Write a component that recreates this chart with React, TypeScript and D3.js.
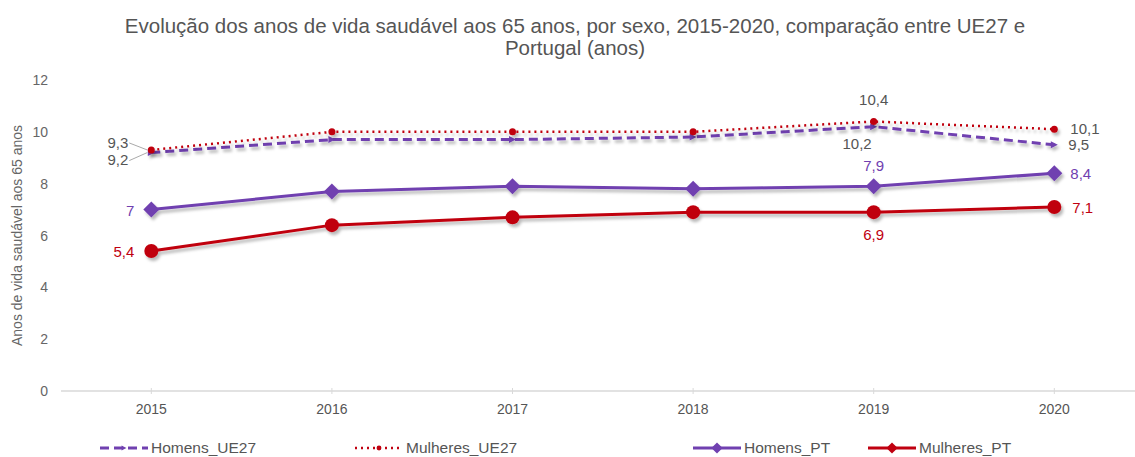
import React from 'react';
import * as d3 from 'd3';

const years = ['2015', '2016', '2017', '2018', '2019', '2020'];
const homensUE27 = [9.2, 9.7, 9.7, 9.8, 10.2, 9.5];
const mulheresUE27 = [9.3, 10.0, 10.0, 10.0, 10.4, 10.1];
const homensPT = [7.0, 7.7, 7.9, 7.8, 7.9, 8.4];
const mulheresPT = [5.4, 6.4, 6.7, 6.9, 6.9, 7.1];
const yTicks = [0, 2, 4, 6, 8, 10, 12];

const PURPLE = '#7040b0';
const RED = '#c00010';
const GREY = '#555';
const FONT = '"Liberation Sans", Arial, Helvetica, sans-serif';

type Series = {
  name: string;
  values: number[];
  color: string;
  dash: string;
  width: number;
  marker: 'arrow' | 'dot' | 'diamond' | 'circle';
  labelColor: string;
  // label placement per labelled year index: [dx, dy, anchor]
  labels: Record<number, [number, number, string]>;
};

const series: Series[] = [
  {
    name: 'Homens_UE27', values: homensUE27, color: PURPLE, dash: '9,5', width: 3,
    marker: 'arrow', labelColor: GREY,
    labels: { 0: [-23, 12, 'end'], 4: [-2, 22, 'end'], 5: [14, 5, 'start'] },
  },
  {
    name: 'Mulheres_UE27', values: mulheresUE27, color: RED, dash: '2,4', width: 2.5,
    marker: 'dot', labelColor: GREY,
    labels: { 0: [-23, -2, 'end'], 4: [0, -16, 'middle'], 5: [16, 5, 'start'] },
  },
  {
    name: 'Homens_PT', values: homensPT, color: PURPLE, dash: '', width: 3,
    marker: 'diamond', labelColor: PURPLE,
    labels: { 0: [-17, 6, 'end'], 4: [0, -15, 'middle'], 5: [16, 6, 'start'] },
  },
  {
    name: 'Mulheres_PT', values: mulheresPT, color: RED, dash: '', width: 3,
    marker: 'circle', labelColor: RED,
    labels: { 0: [-17, 6, 'end'], 4: [0, 28, 'middle'], 5: [18, 6, 'start'] },
  },
];

const fmt = (v: number) => String(v).replace('.', ',');

function Marker({ kind, x, y, color, s = 1 }: { kind: Series['marker']; x: number; y: number; color: string; s?: number }) {
  if (kind === 'circle') return <circle cx={x} cy={y} r={7 * s} fill={color} />;
  if (kind === 'dot') return <circle cx={x} cy={y} r={3.5 * s} fill={color} />;
  if (kind === 'diamond') {
    const d = 8 * s;
    return <path d={`M${x},${y - d}L${x + d},${y}L${x},${y + d}L${x - d},${y}Z`} fill={color} />;
  }
  const a = 3.5 * s;
  return <path d={`M${x - a},${y - a}L${x + a},${y}L${x - a},${y + a}Z`} fill={color} />;
}

export default function App() {
  const width = 1135;
  const height = 457;
  const x = d3.scaleBand<string>().domain(years).range([61, 1144.6]);
  const y = d3.scaleLinear().domain([0, 12]).range([391, 80]);
  const cx = (yr: string) => (x(yr) ?? 0) + x.bandwidth() / 2;
  const line = d3.line<number>().x((_, i) => cx(years[i])).y(d => y(d));

  const legendX = [100, 355, 693, 868];

  return (
    <svg width={width} height={height} style={{ position: 'absolute', left: 0, top: 0, fontFamily: FONT }}>
      <defs>
        <filter id="sh" x="-10%" y="-50%" width="120%" height="200%">
          <feDropShadow dx="2" dy="3" stdDeviation="1.6" floodColor="#000" floodOpacity="0.28" />
        </filter>
      </defs>
      <rect width={width} height={height} fill="#fff" />
      <text x={575} y={33} textAnchor="middle" fontSize={20.5} fill={GREY}>
        Evolução dos anos de vida saudável aos 65 anos, por sexo, 2015-2020, comparação entre UE27 e
      </text>
      <text x={575} y={55} textAnchor="middle" fontSize={20.5} fill={GREY}>Portugal (anos)</text>

      {yTicks.map(t => (
        <text key={t} x={48} y={y(t) + 5} textAnchor="end" fontSize={14} fill="#666">{t}</text>
      ))}
      <text transform={`translate(22,${y(6)}) rotate(-90)`} textAnchor="middle" fontSize={14} fill="#666">
        Anos de vida saudável aos 65 anos
      </text>

      <line x1={61} x2={1135} y1={y(0)} y2={y(0)} stroke="#d9d9d9" strokeWidth={1.5} />
      {years.map(yr => (
        <g key={yr}>
          <line x1={cx(yr)} x2={cx(yr)} y1={y(0) - 3} y2={y(0) + 3} stroke="#d9d9d9" />
          <text x={cx(yr)} y={y(0) + 23} textAnchor="middle" fontSize={14} fill="#555">{yr}</text>
        </g>
      ))}

      {series.map(s => (
        <g key={s.name} filter="url(#sh)">
          <path d={line(s.values) ?? ''} fill="none" stroke={s.color} strokeWidth={s.width} strokeDasharray={s.dash || undefined} />
          {s.values.map((v, i) => (
            <Marker key={i} kind={s.marker} x={cx(years[i])} y={y(v)} color={s.color} />
          ))}
        </g>
      ))}

      {/* leader lines for the 2015 UE27 labels */}
      <path d={`M${cx(years[0]) - 22},${y(mulheresUE27[0]) - 7}L${cx(years[0]) - 4},${y(mulheresUE27[0])}`} stroke="#aaa" fill="none" />
      <path d={`M${cx(years[0]) - 22},${y(homensUE27[0]) + 8}L${cx(years[0]) - 4},${y(homensUE27[0])}`} stroke="#aaa" fill="none" />

      {series.map(s =>
        Object.entries(s.labels).map(([k, [dx, dy, anchor]]) => {
          const i = Number(k);
          return (
            <text key={s.name + k} x={cx(years[i]) + dx} y={y(s.values[i]) + dy} textAnchor={anchor as any}
              fontSize={15} fill={s.labelColor}>{fmt(s.values[i])}</text>
          );
        })
      )}

      {series.map((s, i) => {
        const lx = legendX[i];
        return (
          <g key={s.name} transform={`translate(${lx},448)`}>
            <line x1={0} x2={48} y1={0} y2={0} stroke={s.color} strokeWidth={s.width}
              strokeDasharray={s.dash || undefined} />
            <Marker kind={s.marker === 'circle' ? 'diamond' : s.marker} x={24} y={0} color={s.color} s={0.7} />
            <text x={51} y={5} fontSize={15.5} fill={GREY}>{s.name}</text>
          </g>
        );
      })}
    </svg>
  );
}
